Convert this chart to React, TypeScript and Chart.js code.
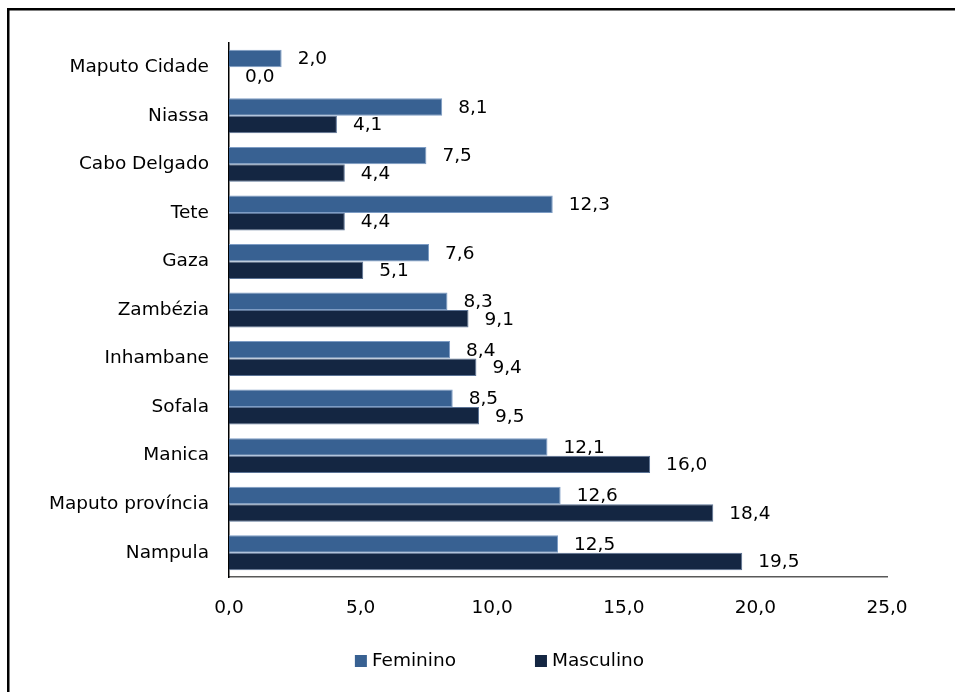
import React, { useEffect, useRef } from "react";
import { Chart, registerables } from "chart.js";

Chart.register(...registerables);

const categories = [
  "Maputo Cidade",
  "Niassa",
  "Cabo Delgado",
  "Tete",
  "Gaza",
  "Zambézia",
  "Inhambane",
  "Sofala",
  "Manica",
  "Maputo província",
  "Nampula",
];
const feminino = [2.0, 8.1, 7.5, 12.3, 7.6, 8.3, 8.4, 8.5, 12.1, 12.6, 12.5];
const masculino = [0.0, 4.1, 4.4, 4.4, 5.1, 9.1, 9.4, 9.5, 16.0, 18.4, 19.5];
const seriesNames = ["Feminino", "Masculino"];
const xTicks = [0, 5, 10, 15, 20, 25];

const FONT_FAMILY = "'DejaVu Sans', Verdana, sans-serif";
const FONT_SIZE = 18.5;
const fmt = (v: number) => v.toFixed(1).replace(".", ",");

const framePlugin = {
  id: "frame",
  beforeDraw(chart: any) {
    const ctx = chart.ctx;
    ctx.save();
    ctx.fillStyle = "#ffffff";
    ctx.fillRect(0, 0, chart.width, chart.height);
    ctx.strokeStyle = "#000000";
    ctx.lineWidth = 2.5;
    ctx.strokeRect(8.25, 9.25, chart.width + 20, chart.height + 20);
    ctx.restore();
  },
};

const labelPlugin = {
  id: "valueLabels",
  afterDatasetsDraw(chart: any) {
    const ctx = chart.ctx;
    ctx.save();
    ctx.font = `${FONT_SIZE}px ${FONT_FAMILY}`;
    ctx.fillStyle = "#000000";
    ctx.textAlign = "left";
    ctx.textBaseline = "middle";
    chart.data.datasets.forEach((ds: any, di: number) => {
      const meta = chart.getDatasetMeta(di);
      meta.data.forEach((el: any, i: number) => {
        const v = ds.data[i] as number;
        ctx.fillText(fmt(v), el.x + 16, el.y + 1);
      });
    });
    ctx.restore();
  },
};

const legendPlugin = {
  id: "customLegend",
  afterDraw(chart: any) {
    const ctx = chart.ctx;
    ctx.save();
    ctx.font = `${FONT_SIZE}px ${FONT_FAMILY}`;
    ctx.textBaseline = "middle";
    ctx.textAlign = "left";
    const box = 12;
    const gapBoxText = 5;
    const itemGap = 79;
    const items = chart.data.datasets.map((ds: any) => ({
      label: ds.label,
      color: ds.backgroundColor,
      w: box + gapBoxText + ctx.measureText(ds.label).width,
    }));
    const total =
      items.reduce((s: number, it: any) => s + it.w, 0) + itemGap * (items.length - 1);
    let x = 499.5 - total / 2;
    const y = 661;
    items.forEach((it: any) => {
      ctx.fillStyle = it.color;
      ctx.fillRect(x, y - box / 2, box, box);
      ctx.fillStyle = "#000000";
      ctx.fillText(it.label, x + box + gapBoxText, y);
      x += it.w + itemGap;
    });
    ctx.restore();
  },
};

export default function App() {
  const ref = useRef<HTMLCanvasElement | null>(null);

  useEffect(() => {
    if (!ref.current) return;
    Chart.defaults.color = "#000000";
    const chart = new Chart(ref.current, {
      type: "bar",
      data: {
        labels: categories,
        datasets: [
          {
            label: seriesNames[0],
            data: feminino,
            backgroundColor: "#386192",
            borderColor: "#7d9cc4",
            borderWidth: 1,
            categoryPercentage: 0.72,
            barPercentage: 1.0,
          },
          {
            label: seriesNames[1],
            data: masculino,
            backgroundColor: "#142642",
            borderColor: "#5b7395",
            borderWidth: 1,
            categoryPercentage: 0.72,
            barPercentage: 1.0,
          },
        ],
      },
      options: {
        indexAxis: "y",
        animation: false,
        responsive: true,
        maintainAspectRatio: false,
        layout: { padding: { left: 0, right: 68, top: 43, bottom: 0 } },
        plugins: {
          legend: { display: false },
          tooltip: { enabled: false },
          title: { display: false },
        },
        scales: {
          x: {
            type: "linear",
            min: 0,
            max: 25,
            afterBuildTicks(scale: any) {
              scale.ticks = xTicks.map((v) => ({ value: v }));
            },
            afterFit(scale: any) {
              scale.height = 115;
            },
            grid: { display: false, drawTicks: false },
            border: { display: true, color: "#595959", width: 1.5 },
            ticks: {
              padding: 20,
              color: "#000000",
              font: { family: FONT_FAMILY, size: FONT_SIZE },
              callback: (v: any) => fmt(Number(v)),
            },
          },
          y: {
            type: "category",
            afterFit(scale: any) {
              scale.width = 229;
            },
            grid: { display: false, drawTicks: false },
            border: { display: true, color: "#000000", width: 1.5 },
            ticks: {
              padding: 20,
              color: "#000000",
              font: { family: FONT_FAMILY, size: FONT_SIZE },
            },
          },
        },
      },
      plugins: [framePlugin, labelPlugin, legendPlugin],
    } as any);
    return () => chart.destroy();
  }, []);

  return (
    <div
      style={{
        position: "fixed",
        left: 0,
        top: 0,
        width: 955,
        height: 692,
        background: "#ffffff",
      }}
    >
      <canvas ref={ref} style={{ display: "block", width: 955, height: 692 }} />
    </div>
  );
}
